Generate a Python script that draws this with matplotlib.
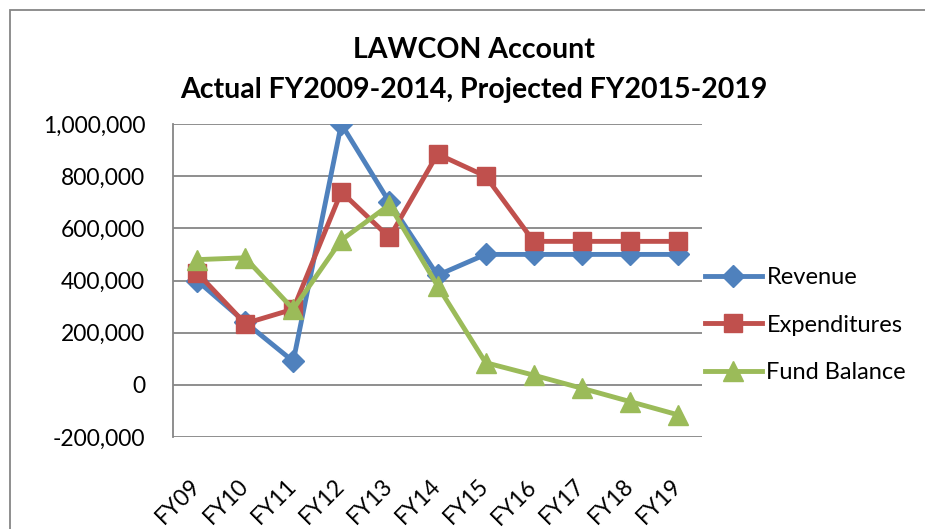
import matplotlib
matplotlib.use('Agg')
import matplotlib.pyplot as plt
from matplotlib.ticker import FuncFormatter
from matplotlib.patches import Rectangle

plt.rcParams['font.family'] = ['Lato', 'DejaVu Sans']

years = ['FY09', 'FY10', 'FY11', 'FY12', 'FY13', 'FY14', 'FY15', 'FY16', 'FY17', 'FY18', 'FY19']
revenue = [400000, 240000, 90000, 1000000, 700000, 420000, 500000, 500000, 500000, 500000, 500000]
expenditures = [430000, 235000, 290000, 740000, 565000, 885000, 800000, 550000, 550000, 550000, 550000]
fund_balance = [480000, 487000, 290000, 555000, 690000, 380000, 85000, 37000, -13000, -64000, -115000]

fig = plt.figure(figsize=(9.25, 5.29), dpi=100)
ax = fig.add_axes([173 / 925, 1 - 437 / 529, (702 - 173) / 925, (437 - 124) / 529])

x = list(range(len(years)))
ax.plot(x, revenue, color='#4F81BD', lw=3.5, marker='D', ms=11, label='Revenue')
ax.plot(x, expenditures, color='#C0504D', lw=3.5, marker='s', ms=13, label='Expenditures')
ax.plot(x, fund_balance, color='#9BBB59', lw=3.5, marker='^', ms=14, label='Fund Balance')

ax.set_xlim(-0.5, len(years) - 0.5)
ax.set_ylim(-200000, 1000000)
ax.set_yticks(range(-200000, 1000001, 200000))
ax.yaxis.set_major_formatter(FuncFormatter(lambda v, p: '{:,.0f}'.format(v)))
ax.grid(axis='y', color='#868686', lw=1.3)
ax.set_axisbelow(True)

for s in ['top', 'right', 'bottom']:
    ax.spines[s].set_visible(False)
ax.spines['left'].set_color('#868686')
ax.spines['left'].set_linewidth(1.3)

ax.set_xticks(x)
ax.set_xticklabels(years, rotation=45, ha='right', va='center', rotation_mode='anchor')
ax.tick_params(axis='x', length=0, pad=33, labelsize=16.5)
ax.tick_params(axis='y', length=0, pad=20, labelsize=16.5)

fig.text(0.512, 1 - 50 / 529, 'LAWCON Account', ha='center', va='center',
         fontsize=20.5, fontweight='bold')
fig.text(0.512, 1 - 90 / 529, 'Actual FY2009-2014, Projected FY2015-2019', ha='center', va='center',
         fontsize=20.5, fontweight='bold')

fig.legend(loc='center left', bbox_to_anchor=(705 / 925, 1 - 325 / 529), frameon=False,
           fontsize=17, handlelength=2.4, handletextpad=0.2, labelspacing=1.12,
           borderpad=0, borderaxespad=0)

fig.patches.append(Rectangle((10 / 925, -0.1), 1.1, 1.1 - 10 / 529, transform=fig.transFigure,
                             fill=False, edgecolor='#868686', lw=1.3))

fig.savefig('out.png', dpi=100)
